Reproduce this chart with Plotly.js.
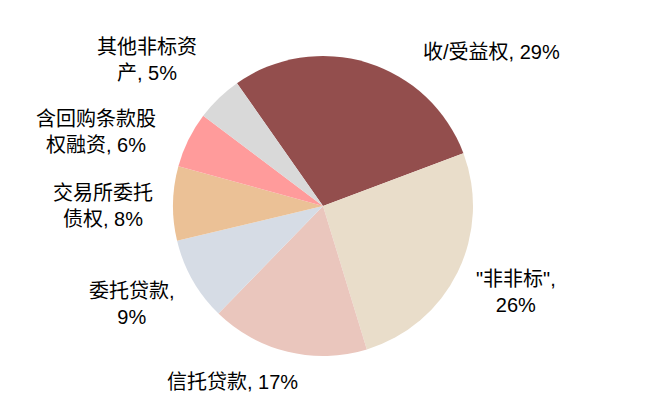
<!DOCTYPE html>
<html>
<head>
<meta charset="utf-8">
<script src="https://cdn.plot.ly/plotly-3.0.1.min.js"></script>
<style>
  html, body { margin: 0; padding: 0; background: #fff; }
  #chart { width: 647px; height: 413px; }
</style>
</head>
<body>
<div id="chart"></div>
<script>
// 数据
let categories = ["收/受益权", "\"非非标\"", "信托贷款", "委托贷款", "交易所委托债权", "含回购条款股权融资", "其他非标资产"];
let shares = [29, 26, 17, 9, 8, 6, 5];
// 标签换行后的文字
let labelLines = [
    ["收/受益权, 29%"],
    ["\"非非标\",", "26%"],
    ["信托贷款, 17%"],
    ["委托贷款,", "9%"],
    ["交易所委托", "债权, 8%"],
    ["含回购条款股", "权融资, 6%"],
    ["其他非标资", "产, 5%"]
];
let colors = ["#934E4D", "#E9DDCA", "#EAC6BD", "#D6DCE5", "#EBC196", "#FF9B9B", "#D9D9D9"];

// 标签位置 (像素)
let labelPos = [
    [491, 52],
    [516, 292],
    [232, 382],
    [132, 304],
    [103, 206],
    [96, 132],
    [147, 60]
];

const W = 647, H = 413;
const fontFam = "Liberation Sans, Arial, Noto Sans CJK SC, sans-serif";

let trace = {
    type: "pie",
    labels: categories,
    values: shares,
    sort: false,
    direction: "clockwise",
    rotation: -35,
    textinfo: "none",
    hoverinfo: "label+percent",
    marker: { colors: colors, line: { width: 0 } },
    domain: { x: [173 / W, 473 / W], y: [(H - 356) / H, (H - 56) / H] },
    showlegend: false
};

let annotations = labelLines.map((lines, i) => ({
    xref: "paper",
    yref: "paper",
    x: labelPos[i][0] / W,
    y: 1 - labelPos[i][1] / H,
    xanchor: "center",
    yanchor: "middle",
    align: "center",
    showarrow: false,
    text: lines.join("<br>"),
    font: { family: fontFam, size: 20, color: "#000" }
}));

let layout = {
    width: W,
    height: H,
    margin: { t: 0, l: 0, r: 0, b: 0 },
    paper_bgcolor: "#fff",
    annotations: annotations
};

Plotly.newPlot("chart", [trace], layout, { displayModeBar: false });
</script>
</body>
</html>
